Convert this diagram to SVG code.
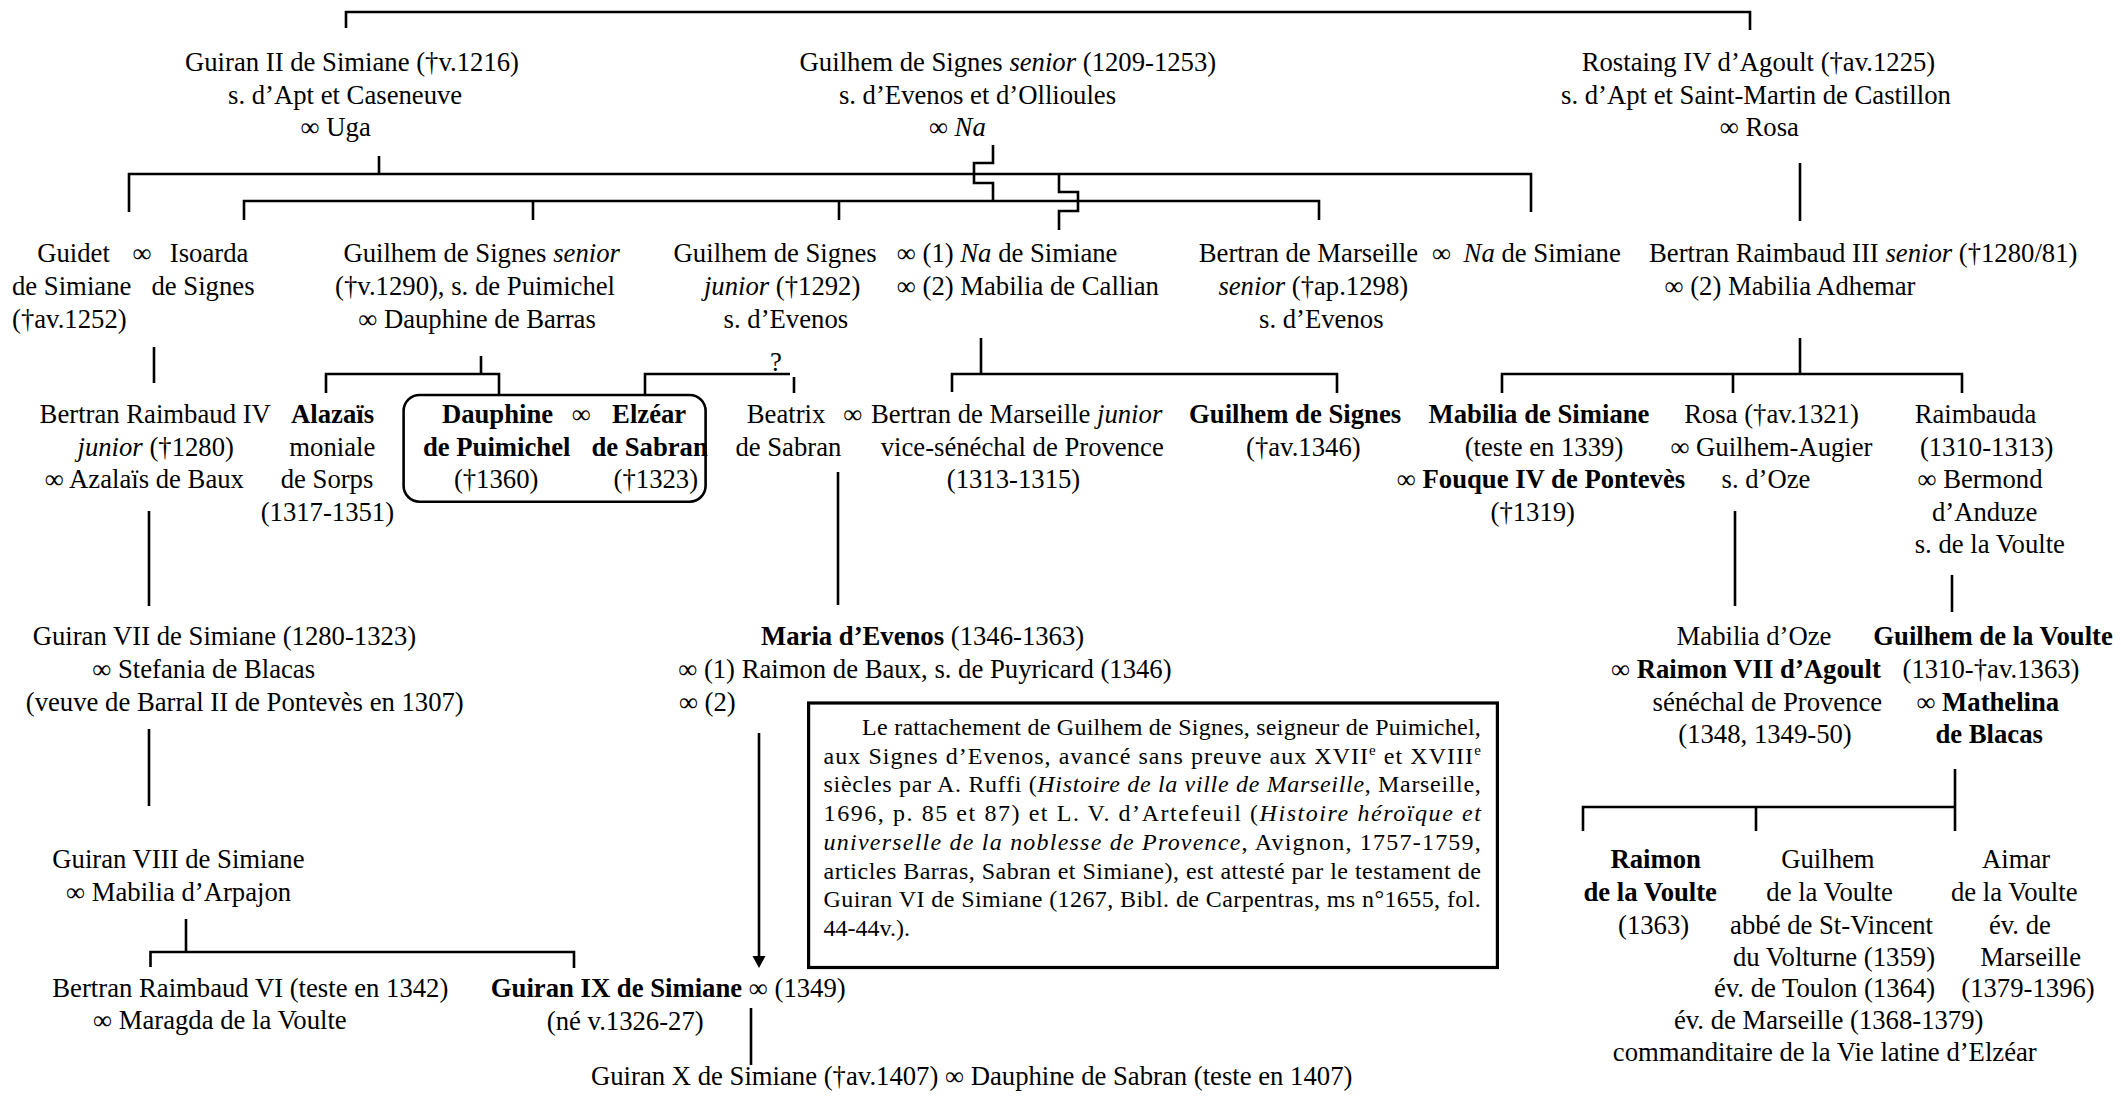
<svg xmlns="http://www.w3.org/2000/svg" width="2121" height="1100" viewBox="0 0 2121 1100">
<style>
text{font-family:"Liberation Serif","Times New Roman",serif;font-size:26.7px;fill:#000}
.b{font-weight:bold}
.i{font-style:italic}
.n{font-size:24px}
.sup{font-size:15px}
.c path{fill:none;stroke:#000;stroke-width:2.6}
.box{fill:none;stroke:#000;stroke-width:2.6}
.note{fill:none;stroke:#000;stroke-width:3.2}
</style>
<defs>
<marker id="ah" markerUnits="userSpaceOnUse" viewBox="0 -7 12 14" refX="6" refY="0" markerWidth="12" markerHeight="14" orient="auto"><path d="M0,-6.5 L12,0 L0,6.5 z" fill="#000"/></marker>
</defs>
<rect width="2121" height="1100" fill="#fff"/>
<g id="connectors" class="c">
<path d="M346,28 V12 H1750 V30"/>
<path d="M379,156 V174"/>
<path d="M129,212 V174 H1531 V212"/>
<path d="M1059,174 V192 H1078 V211 H1059 V230"/>
<path d="M993,145 V163 H974 V183 H993 V201"/>
<path d="M244,220 V201 H1319 V220"/>
<path d="M533,201 V220"/>
<path d="M839,201 V220"/>
<path d="M1800,163 V221"/>
<path d="M154,347 V383"/>
<path d="M481,356 V374"/>
<path d="M326,393 V374 H499 V395"/>
<path d="M645,395 V374 H790"/>
<path d="M794,377 V393"/>
<path d="M981,338 V374"/>
<path d="M952,392 V374 H1337 V393"/>
<path d="M1800,338 V374"/>
<path d="M1502,393 V374 H1962 V393"/>
<path d="M1733,374 V393"/>
<path d="M149,511 V606"/>
<path d="M838,472 V605"/>
<path d="M1735,511 V606"/>
<path d="M1952,575 V612"/>
<path d="M149,729 V806"/>
<path d="M186,919 V952"/>
<path d="M150.5,967 V952 H574 V968"/>
<path d="M759,733 V962" marker-end="url(#ah)"/>
<path d="M751,1008 V1065"/>
<path d="M1955,769 V831"/>
<path d="M1583,831 V807 H1955"/>
<path d="M1756,807 V831"/>
</g>
<text x="770" y="371">?</text>

<g id="n-guiran2">
<text x="185" y="71">Guiran II de Simiane (†v.1216)</text>
<text x="228" y="103.5">s. d’Apt et Caseneuve</text>
<text x="300.6" y="136">∞ Uga</text>
</g>
<g id="n-guilhem-senior">
<text x="799.6" y="71">Guilhem de Signes <tspan class="i">senior</tspan> (1209-1253)</text>
<text x="838.9" y="103.5">s. d’Evenos et d’Ollioules</text>
<text x="928.9" y="136">∞ <tspan class="i">Na</tspan></text>
</g>
<g id="n-rostaing4">
<text x="1581.7" y="71">Rostaing IV d’Agoult (†av.1225)</text>
<text x="1561" y="103.5">s. d’Apt et Saint-Martin de Castillon</text>
<text x="1719.8" y="136">∞ Rosa</text>
</g>

<g id="n-guidet-isoarda">
<text x="37.2" y="262">Guidet</text>
<text x="132.6" y="262">∞</text>
<text x="169.8" y="262">Isoarda</text>
<text x="12" y="295">de Simiane</text>
<text x="151.5" y="295">de Signes</text>
<text x="12" y="328">(†av.1252)</text>
</g>
<g id="n-guilhem-puimichel">
<text x="343.4" y="262">Guilhem de Signes <tspan class="i">senior</tspan></text>
<text x="335.1" y="295">(†v.1290), s. de Puimichel</text>
<text x="358.2" y="328">∞ Dauphine de Barras</text>
</g>
<g id="n-guilhem-junior">
<text x="673.6" y="262">Guilhem de Signes</text>
<text x="703.9" y="295"><tspan class="i">junior</tspan> (†1292)</text>
<text x="723.6" y="328">s. d’Evenos</text>
<text x="896.8" y="262">∞ (1) <tspan class="i">Na</tspan> de Simiane</text>
<text x="896.8" y="295">∞ (2) Mabilia de Callian</text>
</g>
<g id="n-bertran-senior">
<text x="1198.8" y="262">Bertran de Marseille</text>
<text x="1431.9" y="262">∞</text>
<text x="1463.6" y="262"><tspan class="i">Na</tspan> de Simiane</text>
<text x="1218.4" y="295"><tspan class="i">senior</tspan> (†ap.1298)</text>
<text x="1259" y="328">s. d’Evenos</text>
</g>
<g id="n-bertran3">
<text x="1649" y="262">Bertran Raimbaud III <tspan class="i">senior</tspan> (†1280/81)</text>
<text x="1664.5" y="295">∞ (2) Mabilia Adhemar</text>
</g>

<g id="n-bertran4">
<text x="39.6" y="423">Bertran Raimbaud IV</text>
<text x="77.5" y="455.5"><tspan class="i">junior</tspan> (†1280)</text>
<text x="44.8" y="488">∞ Azalaïs de Baux</text>
</g>
<g id="n-alazais">
<text x="291" y="423" class="b">Alazaïs</text>
<text x="289.3" y="455.5">moniale</text>
<text x="280.7" y="488">de Sorps</text>
<text x="260.7" y="521">(1317-1351)</text>
</g>
<g id="n-dauphine-elzear">
<rect class="box" x="403.6" y="395" width="302" height="106.7" rx="16"/>
<text x="441.9" y="423" class="b">Dauphine</text>
<text x="571.8" y="423">∞</text>
<text x="612.1" y="423" class="b">Elzéar</text>
<text x="422.9" y="455.5" class="b">de Puimichel</text>
<text x="591.4" y="455.5" class="b">de Sabran</text>
<text x="453.9" y="488">(†1360)</text>
<text x="613.6" y="488">(†1323)</text>
</g>
<g id="n-beatrix">
<text x="746.8" y="423">Beatrix</text>
<text x="843.2" y="423">∞</text>
<text x="735.4" y="455.5">de Sabran</text>
<text x="871" y="423">Bertran de Marseille <tspan class="i">junior</tspan></text>
<text x="880.7" y="455.5">vice-sénéchal de Provence</text>
<text x="946.8" y="488">(1313-1315)</text>
</g>
<g id="n-guilhem-signes-1346">
<text x="1189.1" y="423" class="b">Guilhem de Signes</text>
<text x="1246" y="455.5">(†av.1346)</text>
</g>
<g id="n-mabilia-simiane">
<text x="1428.5" y="423" class="b">Mabilia de Simiane</text>
<text x="1464.7" y="455.5">(teste en 1339)</text>
<text x="1396.8" y="488">∞ <tspan class="b">Fouque IV de Pontevès</tspan></text>
<text x="1490.5" y="521">(†1319)</text>
</g>
<g id="n-rosa">
<text x="1684.2" y="423">Rosa (†av.1321)</text>
<text x="1670.4" y="455.5">∞ Guilhem-Augier</text>
<text x="1721.5" y="488">s. d’Oze</text>
</g>
<g id="n-raimbauda">
<text x="1914.7" y="423">Raimbauda</text>
<text x="1919.9" y="455.5">(1310-1313)</text>
<text x="1917.5" y="488">∞ Bermond</text>
<text x="1932" y="521">d’Anduze</text>
<text x="1914.7" y="553">s. de la Voulte</text>
</g>

<g id="n-guiran7">
<text x="32.7" y="645">Guiran VII de Simiane (1280-1323)</text>
<text x="92.3" y="678">∞ Stefania de Blacas</text>
<text x="25.8" y="710.5">(veuve de Barral II de Pontevès en 1307)</text>
</g>
<g id="n-maria">
<text x="761" y="645"><tspan class="b">Maria d’Evenos</tspan> (1346-1363)</text>
<text x="678.2" y="678">∞ (1) Raimon de Baux, s. de Puyricard (1346)</text>
<text x="678.9" y="710.5">∞ (2)</text>
</g>
<g id="n-mabilia-oze">
<text x="1676.6" y="645">Mabilia d’Oze</text>
<text x="1611" y="678">∞ <tspan class="b">Raimon VII d’Agoult</tspan></text>
<text x="1652.5" y="710.5">sénéchal de Provence</text>
<text x="1678.3" y="743">(1348, 1349-50)</text>
</g>
<g id="n-guilhem-voulte">
<text x="1873.3" y="645" class="b">Guilhem de la Voulte</text>
<text x="1902.6" y="678">(1310-†av.1363)</text>
<text x="1916.4" y="710.5">∞ <tspan class="b">Mathelina</tspan></text>
<text x="1935.4" y="743" class="b">de Blacas</text>
</g>

<g id="n-guiran8">
<text x="52.3" y="868">Guiran VIII de Simiane</text>
<text x="66.1" y="901">∞ Mabilia d’Arpajon</text>
</g>
<g id="n-raimon-voulte">
<text x="1610.4" y="868" class="b">Raimon</text>
<text x="1583.5" y="901" class="b">de la Voulte</text>
<text x="1618" y="933.5">(1363)</text>
</g>
<g id="n-guilhem-voulte-abbe">
<text x="1781.2" y="868">Guilhem</text>
<text x="1766.3" y="901">de la Voulte</text>
<text x="1730.1" y="933.5">abbé de St-Vincent</text>
<text x="1732.9" y="965.5">du Volturne (1359)</text>
<text x="1713.9" y="997">év. de Toulon (1364)</text>
<text x="1673.9" y="1029">év. de Marseille (1368-1379)</text>
<text x="1612.8" y="1061">commanditaire de la Vie latine d’Elzéar</text>
</g>
<g id="n-aimar">
<text x="1982" y="868">Aimar</text>
<text x="1951" y="901">de la Voulte</text>
<text x="1988.9" y="933.5">év. de</text>
<text x="1980.3" y="965.5">Marseille</text>
<text x="1961.3" y="997">(1379-1396)</text>
</g>

<g id="n-bertran6">
<text x="52.3" y="997">Bertran Raimbaud VI (teste en 1342)</text>
<text x="93" y="1029">∞ Maragda de la Voulte</text>
</g>
<g id="n-guiran9">
<text x="490.8" y="997"><tspan class="b">Guiran IX de Simiane</tspan> ∞ (1349)</text>
<text x="546.8" y="1029.5">(né v.1326-27)</text>
</g>
<g id="n-guiran10">
<text x="591" y="1085">Guiran X de Simiane (†av.1407) ∞ Dauphine de Sabran (teste en 1407)</text>
</g>

<g id="n-note">
<rect class="note" x="808.6" y="703" width="688.8" height="264.5"/>
<text class="n" x="862.1" y="735" textLength="618.7" lengthAdjust="spacing">Le rattachement de Guilhem de Signes, seigneur de Puimichel,</text>
<text class="n" x="823.6" y="763.7" textLength="657.2" lengthAdjust="spacing">aux Signes d’Evenos, avancé sans preuve aux XVII<tspan class="sup" dy="-9">e</tspan><tspan dy="9"> et XVIII</tspan><tspan class="sup" dy="-9">e</tspan></text>
<text class="n" x="823.6" y="792.4" textLength="657.2" lengthAdjust="spacing">siècles par A. Ruffi (<tspan class="i">Histoire de la ville de Marseille</tspan>, Marseille,</text>
<text class="n" x="823.6" y="821.1" textLength="657.2" lengthAdjust="spacing">1696, p. 85 et 87) et L. V. d’Artefeuil (<tspan class="i">Histoire héroïque et</tspan></text>
<text class="n" x="823.6" y="849.8" textLength="657.2" lengthAdjust="spacing"><tspan class="i">universelle de la noblesse de Provence</tspan>, Avignon, 1757-1759,</text>
<text class="n" x="823.6" y="878.5" textLength="657.2" lengthAdjust="spacing">articles Barras, Sabran et Simiane), est attesté par le testament de</text>
<text class="n" x="823.6" y="907.2" textLength="657.2" lengthAdjust="spacing">Guiran VI de Simiane (1267, Bibl. de Carpentras, ms n°1655, fol.</text>
<text class="n" x="823.6" y="935.9">44-44v.).</text>
</g>
</svg>
